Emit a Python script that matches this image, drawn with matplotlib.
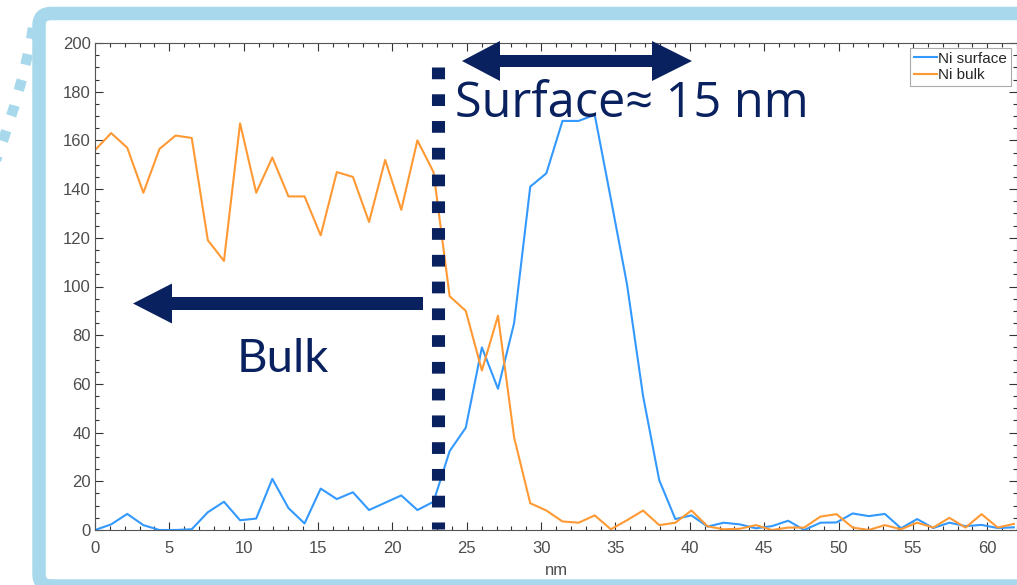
"""Ni surface / bulk depth profile with surface-layer annotations."""
import matplotlib

matplotlib.use("Agg")
import matplotlib.pyplot as plt
import numpy as np
from matplotlib.lines import Line2D
from matplotlib.patches import FancyBboxPatch, Polygon, PathPatch
from matplotlib.path import Path
from matplotlib.ticker import MultipleLocator

W, H, DPI = 1017, 585, 100

# depth profile, one sample every ~1.084 nm
DEPTH_STEP = 1.084
ni_surface = [0, 2.3, 6.6, 2, 0, 0, 0.3, 7.3, 11.6, 4, 4.7, 21, 9, 2.7, 17, 12.7,
              15.5, 8.2, 11.2, 14.2, 8.2, 11.6, 32.4, 42, 75, 58, 85, 141, 146.5,
              168, 168, 170.5, 136, 101, 55, 20.5, 4.5, 6, 1.4, 3, 2.3, 0.7, 1.6,
              3.8, 0, 3, 3.1, 6.8, 5.7, 6.6, 0.7, 4.5, 0.8, 3, 1.6, 2.1, 0.8, 1.1]
ni_bulk = [156, 163, 157, 138.5, 156.5, 162, 161, 119, 110.5, 167, 138.5, 153, 137,
           137, 121, 147, 145, 126.5, 152, 131.5, 160, 147, 96, 90, 65.5, 88, 38,
           11, 8, 3.5, 3, 6, 0.3, 4, 8, 2, 3, 8, 1.5, 0.3, 0.5, 2, 0, 1, 1, 5.5,
           6.5, 1, 0, 2, 0.3, 3, 1, 5, 1, 6.5, 1, 2.5]
series_labels = ["Ni surface", "Ni bulk"]
series_colors = ["#3399FF", "#FF9933"]

NAVY = "#0a2160"
FRAME = "#a8d8ec"
TICK_GRAY = "#4d4d4d"

depth = np.arange(len(ni_surface)) * DEPTH_STEP


def pin(x, y):
    # pixel (from top-left) -> inches (from bottom-left)
    return (x / DPI, (H - y) / DPI)


fig = plt.figure(figsize=(W / DPI, H / DPI), dpi=DPI)
ax = fig.add_axes([95 / W, 1 - 530 / H, 1 - 95 / W, (530 - 43) / H])

for vals, lab, col in zip([ni_surface, ni_bulk], series_labels, series_colors):
    ax.plot(depth, vals, color=col, lw=1.5, label=lab)

ax.set_xlim(0, 62)
ax.set_ylim(0, 200)
ax.xaxis.set_major_locator(MultipleLocator(5))
ax.xaxis.set_minor_locator(MultipleLocator(1))
ax.yaxis.set_major_locator(MultipleLocator(20))
ax.yaxis.set_minor_locator(MultipleLocator(5))
ax.tick_params(which="both", direction="in", top=True, right=True,
               colors="#333333", labelcolor=TICK_GRAY, labelsize=12, width=0.8)
ax.tick_params(which="major", length=6)
ax.tick_params(which="minor", length=3)
ax.tick_params(axis="x", pad=8)
ax.tick_params(axis="y", pad=3)
for s in ax.spines.values():
    s.set_color("#555555")
    s.set_linewidth(0.8)
ax.set_xlabel("nm", fontsize=12, color=TICK_GRAY, labelpad=5)
for lbl in ax.get_xticklabels() + ax.get_yticklabels():
    lbl.set_family("Liberation Sans")
ax.xaxis.label.set_family("Liberation Sans")

leg = ax.legend(loc="upper right", bbox_to_anchor=(1011 / W, 1 - 48 / H),
                bbox_transform=fig.transFigure, borderaxespad=0, fancybox=False,
                framealpha=1, edgecolor="#aaaaaa", handlelength=1.5,
                handletextpad=0.1, borderpad=0.25, labelspacing=0.15,
                prop={"family": "Liberation Sans", "size": 11})
leg.get_frame().set_linewidth(0.8)
for t in leg.get_texts():
    t.set_color("#262626")

tr = fig.dpi_scale_trans

# light-blue rounded frame
x0, y0 = pin(39, 586)
x1, y1 = pin(1060, 13.5)
frame = FancyBboxPatch((x0, y0), x1 - x0, y1 - y0,
                       boxstyle="round,pad=0,rounding_size=0.12",
                       transform=tr, fill=False, ec=FRAME, lw=9.7, clip_on=False)
fig.add_artist(frame)

# dashed arc at top-left
verts = [pin(33, 28), pin(24, 85), pin(-4, 160)]
arc = PathPatch(Path(verts, [Path.MOVETO, Path.CURVE3, Path.CURVE3]),
                transform=tr, fill=False, ec=FRAME, lw=7.5,
                linestyle=(0, (1.05, 1.5)), capstyle="butt")
fig.add_artist(arc)

# dotted boundary
bx0, by0 = pin(438, 67)
bx1, by1 = pin(438, 529)
fig.add_artist(Line2D([bx0, bx1], [by0, by1], transform=tr, color=NAVY, lw=9.4,
                      linestyle=(0, (0.9, 1.15)), solid_capstyle="butt",
                      dash_capstyle="butt"))


def arrow_poly(pts):
    return Polygon([pin(x, y) for x, y in pts], closed=True, transform=tr,
                   fc=NAVY, ec="none")


# double arrow over the surface layer
cy = 61
fig.add_artist(arrow_poly([(462, cy), (500, cy - 20), (500, cy - 6), (652, cy - 6),
                           (652, cy - 20), (692, cy), (652, cy + 20), (652, cy + 6),
                           (500, cy + 6), (500, cy + 20)]))
# bulk arrow
cy = 303.5
fig.add_artist(arrow_poly([(133, cy), (172, cy - 20), (172, cy - 6.5), (423, cy - 6.5),
                           (423, cy + 6.5), (172, cy + 6.5), (172, cy + 20)]))

tx, ty = pin(455, 117)
fig.text(tx, ty, "Surface\u2248 15 nm", transform=tr, fontsize=35,
         family="Open Sans", color=NAVY, ha="left", va="baseline")
tx, ty = pin(237, 372)
fig.text(tx, ty, "Bulk", transform=tr, fontsize=34, family="Lato",
         color=NAVY, ha="left", va="baseline")

fig.savefig("out.png", dpi=DPI)
